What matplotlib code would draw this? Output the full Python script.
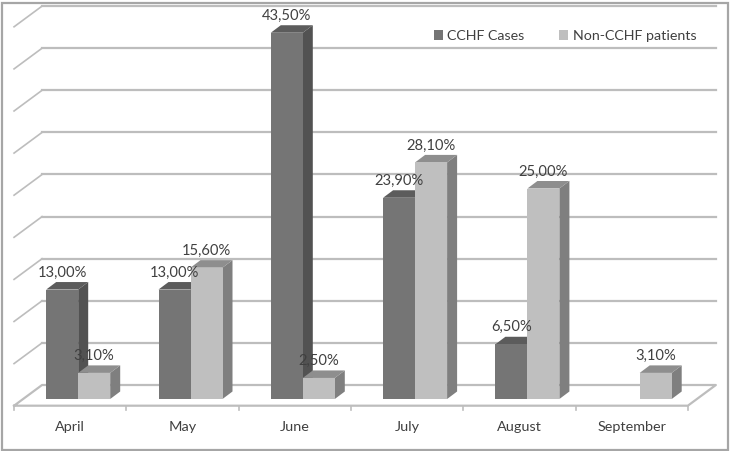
import matplotlib
matplotlib.use('Agg')
import matplotlib.pyplot as plt
from matplotlib.patches import Polygon, Patch, Rectangle

months = ['April', 'May', 'June', 'July', 'August', 'September']
cchf = [13.0, 13.0, 43.5, 23.9, 6.5, None]
non_cchf = [3.1, 15.6, 2.5, 28.1, 25.0, 3.1]
gridlines = [5, 10, 15, 20, 25, 30, 35, 40, 45]

W, H = 731, 451
# pixel scale of the chart
px_x = 112.3
px_y = 8.42
x0_px = 70.2
y0_px = 405.7

wall_dx = 28 / px_x
wall_dy = 20.7 / px_y
bar_w = 32 / px_x
bar_dx = 10 / px_x
bar_dy = 7.5 / px_y
inset_dx = 8 / px_x
inset_dy = 6.7 / px_y

dark = ('#757575', '#525252', '#5c5c5c')
light = ('#bfbfbf', '#7f7f7f', '#8e8e8e')
grid_c = '#bdbdbd'
text_c = '#404040'

plt.rcParams['font.family'] = ['Lato', 'DejaVu Sans']

fig = plt.figure(figsize=(W / 100, H / 100), dpi=100)
ax = fig.add_axes([0, 0, 1, 1])
ax.set_xlim(-x0_px / px_x, (W - x0_px) / px_x)
ax.set_ylim(-(H - y0_px) / px_y, y0_px / px_y)
ax.axis('off')

# outer frame
ax.add_patch(Rectangle((1.5 / W, 1.5 / H), 726.5 / W, 447 / H, transform=ax.transAxes,
                       fill=False, ec='#a6a6a6', lw=1.6))

left = -0.5
right = len(months) - 0.5

# back wall lines
for g in gridlines:
    ax.plot([left, left + wall_dx], [g, g + wall_dy], color=grid_c, lw=1.2, zorder=1)
    ax.plot([left + wall_dx, right + wall_dx], [g + wall_dy, g + wall_dy], color=grid_c, lw=1.6, zorder=1)

# floor
ax.plot([left, left + wall_dx, right + wall_dx, right, left],
        [0, wall_dy, wall_dy, 0, 0], color=grid_c, lw=1.6, zorder=1)
for i in range(len(months) + 1):
    ax.plot([left + i, left + i], [0, -4.5 / px_y], color=grid_c, lw=1.2, zorder=1)


def bar3d(x, v, cols, z):
    y = inset_dy
    top = y + v
    ax.add_patch(Polygon([(x + bar_w, y), (x + bar_w + bar_dx, y + bar_dy),
                          (x + bar_w + bar_dx, top + bar_dy), (x + bar_w, top)],
                         fc=cols[1], ec='none', zorder=z))
    ax.add_patch(Polygon([(x, top), (x + bar_dx, top + bar_dy),
                          (x + bar_w + bar_dx, top + bar_dy), (x + bar_w, top)],
                         fc=cols[2], ec='none', zorder=z))
    ax.add_patch(Rectangle((x, y), bar_w, v, fc=cols[0], ec='none', zorder=z))


def label(x, v):
    txt = f'{v:.2f}%'.replace('.', ',')
    ax.text(x + bar_w / 2, inset_dy + v + 17 / px_y, txt, ha='center', va='center',
            fontsize=10.6, color=text_c, zorder=10)


for i, m in enumerate(months):
    xc = i + inset_dx
    if cchf[i] is not None:
        bar3d(xc - bar_w, cchf[i], dark, 3 + i)
        label(xc - bar_w, cchf[i])
    bar3d(xc, non_cchf[i], light, 3 + i)
    label(xc, non_cchf[i])
    ax.text(i, -(427 - y0_px) / px_y, m, ha='center', va='center', fontsize=10.4, color=text_c)

handles = [Patch(fc=dark[0], label='CCHF Cases'), Patch(fc=light[0], label='Non-CCHF patients')]
ax.legend(handles=handles, loc='center', bbox_to_anchor=(565 / W, 1 - 36 / H), ncols=2, frameon=False,
          fontsize=10.3, labelcolor=text_c, handlelength=0.65, handleheight=0.7, handletextpad=0.3,
          columnspacing=2.4, borderpad=0, borderaxespad=0)

fig.savefig('out.png', dpi=100)
